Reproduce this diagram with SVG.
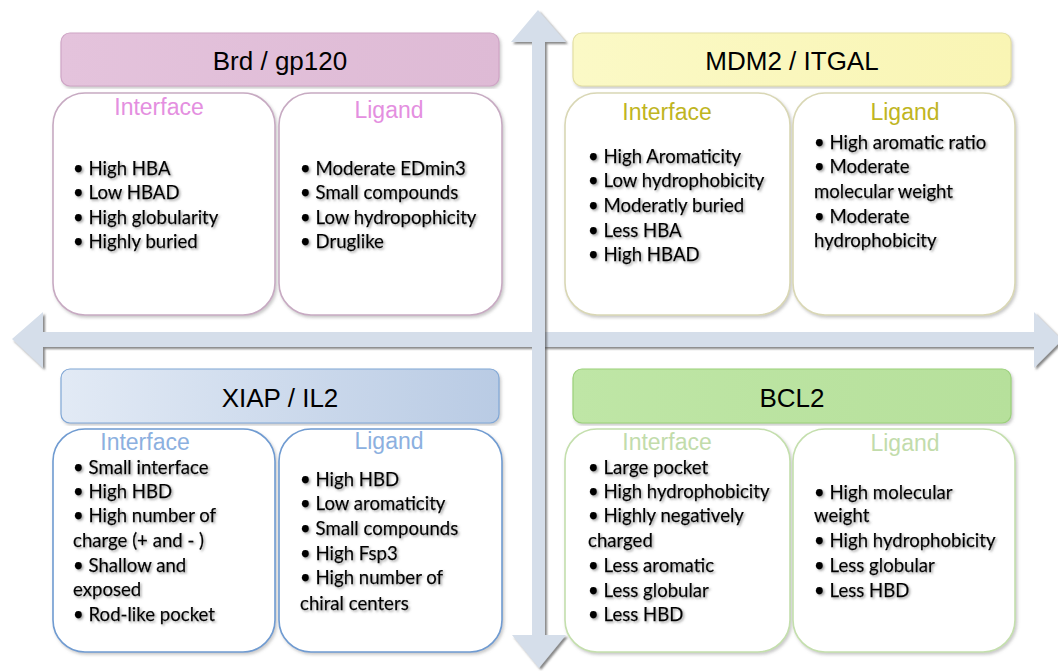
<svg xmlns="http://www.w3.org/2000/svg" width="1058" height="671" viewBox="0 0 1058 671">
<defs>
  <filter id="arrowShadow" x="-10%" y="-10%" width="120%" height="120%">
    <feDropShadow dx="2" dy="2" stdDeviation="1" flood-color="#444" flood-opacity="0.65"/>
  </filter>
  <filter id="boxShadow" x="-5%" y="-5%" width="110%" height="110%">
    <feDropShadow dx="1.5" dy="2" stdDeviation="1.5" flood-color="#888" flood-opacity="0.45"/>
  </filter>
  <filter id="textShadow" x="-5%" y="-20%" width="110%" height="140%">
    <feDropShadow dx="1.5" dy="1.5" stdDeviation="1" flood-color="#666" flood-opacity="0.6"/>
  </filter>
  <linearGradient id="gPink" x1="0" y1="0" x2="1" y2="0">
    <stop offset="0" stop-color="#e4c3dc"/><stop offset="1" stop-color="#debad5"/>
  </linearGradient>
  <linearGradient id="gYellow" x1="0" y1="0" x2="1" y2="0">
    <stop offset="0" stop-color="#fbf9c6"/><stop offset="1" stop-color="#f9f5b4"/>
  </linearGradient>
  <linearGradient id="gBlue" x1="0" y1="0" x2="1" y2="0">
    <stop offset="0" stop-color="#e2eaf5"/><stop offset="1" stop-color="#b9cbe4"/>
  </linearGradient>
  <linearGradient id="gGreen" x1="0" y1="0" x2="1" y2="0">
    <stop offset="0" stop-color="#bfe6a6"/><stop offset="1" stop-color="#b6e09b"/>
  </linearGradient>
</defs>
<style>
  .hdr { font-family: "Liberation Sans", Arial, sans-serif; font-size: 26px; fill: #000; text-anchor: middle; }
  .lbl { font-family: "Liberation Sans", Arial, sans-serif; font-size: 23px; text-anchor: middle; }
  .bul { font-family: Lato, "Open Sans", sans-serif; font-size: 18.6px; fill: #000; stroke: #000; stroke-width: 0.25; filter: url(#textShadow); }
  .sub { fill: #fff; stroke-width: 1.6; filter: url(#boxShadow); }
  .head { stroke-width: 1.2; filter: url(#boxShadow); }
  .arrow { fill: #d5deea; filter: url(#arrowShadow); }
</style>
<rect width="1058" height="671" fill="#fff"/>

<g id="connectors">
  <polygon class="arrow" points="12,339 43,312 43,332 1034,332 1034,312 1062,340 1034,368 1034,347 43,347 43,368"/>
  <polygon class="arrow" points="538,10 566,42 545,42 545,635 566,635 539,668 512,635 532,635 532,42 511,42"/>
</g>

<g id="brd-gp120">
  <rect class="head" x="61" y="33" width="438" height="53" rx="9" fill="url(#gPink)" stroke="#cfa5c6"/>
  <text class="hdr" x="280" y="70">Brd / gp120</text>
  <rect class="sub" x="53" y="93" width="222" height="222" rx="32" stroke="#c7aac2"/>
  <rect class="sub" x="279" y="93" width="223" height="222" rx="32" stroke="#c7aac2"/>
  <text class="lbl" x="159" y="115" fill="#e48fe0">Interface</text>
  <text class="lbl" x="389" y="118" fill="#e48fe0">Ligand</text>
  <text class="bul" x="73" y="175">• High HBA</text>
  <text class="bul" x="73" y="199">• Low HBAD</text>
  <text class="bul" x="73" y="224">• High globularity</text>
  <text class="bul" x="73" y="248">• Highly buried</text>
  <text class="bul" x="300" y="175">• Moderate EDmin3</text>
  <text class="bul" x="300" y="199">• Small compounds</text>
  <text class="bul" x="300" y="224">• Low hydropophicity</text>
  <text class="bul" x="300" y="248">• Druglike</text>
</g>

<g id="mdm2-itgal">
  <rect class="head" x="573" y="33" width="438" height="53" rx="9" fill="url(#gYellow)" stroke="#e4e0a4"/>
  <text class="hdr" x="792" y="70">MDM2 / ITGAL</text>
  <rect class="sub" x="565" y="93" width="225" height="222" rx="32" stroke="#d9d7b5"/>
  <rect class="sub" x="793" y="93" width="222" height="222" rx="32" stroke="#d9d7b5"/>
  <text class="lbl" x="667" y="120" fill="#bfb522">Interface</text>
  <text class="lbl" x="905" y="120" fill="#bfb522">Ligand</text>
  <text class="bul" x="588" y="163">• High Aromaticity</text>
  <text class="bul" x="588" y="187">• Low hydrophobicity</text>
  <text class="bul" x="588" y="212">• Moderatly buried</text>
  <text class="bul" x="588" y="237">• Less HBA</text>
  <text class="bul" x="588" y="261">• High HBAD</text>
  <text class="bul" x="814" y="149">• High aromatic ratio</text>
  <text class="bul" x="814" y="173">• Moderate</text>
  <text class="bul" x="814" y="198">molecular weight</text>
  <text class="bul" x="814" y="223">• Moderate</text>
  <text class="bul" x="814" y="247">hydrophobicity</text>
</g>

<g id="xiap-il2">
  <rect class="head" x="61" y="369" width="438" height="54" rx="9" fill="url(#gBlue)" stroke="#80a7d6"/>
  <text class="hdr" x="280" y="407">XIAP / IL2</text>
  <rect class="sub" x="53" y="429" width="222" height="223" rx="32" stroke="#6f9bd1"/>
  <rect class="sub" x="279" y="429" width="223" height="223" rx="32" stroke="#6f9bd1"/>
  <text class="lbl" x="145" y="450" fill="#8cb0e0">Interface</text>
  <text class="lbl" x="389" y="449" fill="#8cb0e0">Ligand</text>
  <text class="bul" x="73" y="474">• Small interface</text>
  <text class="bul" x="73" y="498">• High HBD</text>
  <text class="bul" x="73" y="522">• High number of</text>
  <text class="bul" x="73" y="547">charge (+  and - )</text>
  <text class="bul" x="73" y="572">• Shallow and</text>
  <text class="bul" x="73" y="596">exposed</text>
  <text class="bul" x="73" y="621">• Rod-like pocket</text>
  <text class="bul" x="300" y="486">• High HBD</text>
  <text class="bul" x="300" y="510">• Low aromaticity</text>
  <text class="bul" x="300" y="535">• Small compounds</text>
  <text class="bul" x="300" y="560">• High Fsp3</text>
  <text class="bul" x="300" y="584">• High number of</text>
  <text class="bul" x="300" y="610">chiral centers</text>
</g>

<g id="bcl2">
  <rect class="head" x="573" y="369" width="438" height="54" rx="9" fill="url(#gGreen)" stroke="#9bd17a"/>
  <text class="hdr" x="792" y="407">BCL2</text>
  <rect class="sub" x="565" y="429" width="225" height="223" rx="32" stroke="#c4dfad"/>
  <rect class="sub" x="793" y="429" width="222" height="223" rx="32" stroke="#c4dfad"/>
  <text class="lbl" x="667" y="450" fill="#c2dcab">Interface</text>
  <text class="lbl" x="905" y="451" fill="#c2dcab">Ligand</text>
  <text class="bul" x="588" y="474">• Large pocket</text>
  <text class="bul" x="588" y="498">• High hydrophobicity</text>
  <text class="bul" x="588" y="522">• Highly negatively</text>
  <text class="bul" x="588" y="547">charged</text>
  <text class="bul" x="588" y="572">• Less aromatic</text>
  <text class="bul" x="588" y="597">• Less globular</text>
  <text class="bul" x="588" y="621">• Less HBD</text>
  <text class="bul" x="814" y="499">• High molecular</text>
  <text class="bul" x="814" y="522">weight</text>
  <text class="bul" x="814" y="547">• High hydrophobicity</text>
  <text class="bul" x="814" y="572">• Less globular</text>
  <text class="bul" x="814" y="597">• Less HBD</text>
</g>
</svg>
